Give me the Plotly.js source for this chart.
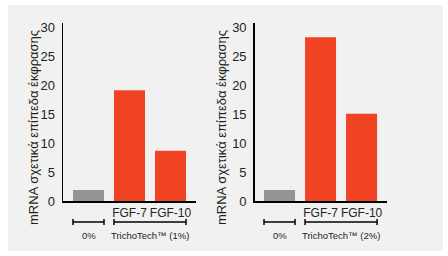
<!DOCTYPE html>
<html>
<head>
<meta charset="utf-8">
<script src="https://cdn.plot.ly/plotly-3.0.1.min.js"></script>
<style>html,body{margin:0;padding:0;background:#fff;}#chart{width:448px;height:256px;}</style>
</head>
<body>
<div id="chart"></div>
<script>
const positions = [0, 1, 2];
const catLabels = ['', 'FGF-7', 'FGF-10'];
const values1 = [1.9, 19.2, 8.7];
const values2 = [1.9, 28.4, 15.1];
const barColors = ['#939598', '#EF4324', '#EF4324'];
const groupLabels1 = ['0%', 'TrichoTech™ (1%)'];
const groupLabels2 = ['0%', 'TrichoTech™ (2%)'];
const yTitle = 'mRNA σχετικά επίπεδα έκφρασης';
const yTicks = [0, 5, 10, 15, 20, 25, 30];

const font = 'Liberation Sans, Arial, sans-serif';
const txt = '#231f20';

const traces = [
  {type:'bar', x: positions, y: values1, marker:{color: barColors}, width:0.756, xaxis:'x', yaxis:'y', hoverinfo:'skip'},
  {type:'bar', x: positions, y: values2, marker:{color: barColors}, width:0.756, xaxis:'x2', yaxis:'y2', hoverinfo:'skip'}
];

const yDom = [1-201/256, 1-22.7/256];
function xax(dom, range, anchor){
  return {domain: dom, range: range, anchor: anchor, showgrid:false, zeroline:false,
    showline:true, linecolor:'#000', linewidth:1.5, ticks:'',
    tickvals:[1,2], ticktext: catLabels.slice(1), tickfont:{family:font, size:12, color:txt}, fixedrange:true};
}
function yax(anchor){
  return {domain: yDom, range:[0, 30.9], anchor: anchor, showgrid:false, zeroline:false,
    showline:true, linecolor:'#000', linewidth:1.5, ticks:'', tickvals: yTicks,
    ticklabelstandoff: 4,
    tickfont:{family:font, size:13, color:txt}, fixedrange:true};
}

const shapes = [
  {type:'rect', xref:'paper', yref:'paper', x0:8/448, x1:443/448, y0:1-251/256, y1:1-5/256,
   fillcolor:'#f1f1f1', line:{width:0}, layer:'below'}
];
const annotations = [];
const by = 1-222/256, capH = 3/256, ty = 1-235/256;
function brackets(xr, labels){
  const spans = [[-0.378, 0.378], [0.622, 2.378]];
  spans.forEach((s, i) => {
    shapes.push({type:'line', xref:xr, yref:'paper', x0:s[0], x1:s[1], y0:by, y1:by, line:{color:'#000', width:1.5}});
    shapes.push({type:'line', xref:xr, yref:'paper', x0:s[0], x1:s[0], y0:by-capH, y1:by+capH, line:{color:'#000', width:1.5}});
    shapes.push({type:'line', xref:xr, yref:'paper', x0:s[1], x1:s[1], y0:by-capH, y1:by+capH, line:{color:'#000', width:1.5}});
    annotations.push({xref:xr, yref:'paper', x:(s[0]+s[1])/2, y:ty, text:labels[i], showarrow:false,
      xanchor:'center', yanchor:'middle', font:{family:font, size:9.5, color:txt}});
  });
}
brackets('x', groupLabels1);
brackets('x2', groupLabels2);
[33, 221].forEach(px => annotations.push({xref:'paper', yref:'paper', x:px/448, y:1-128/256, text:yTitle,
  textangle:-90, showarrow:false, xanchor:'center', yanchor:'middle', font:{family:font, size:13, color:txt}}));

const layout = {
  width:448, height:256, margin:{l:0,r:0,t:0,b:0}, paper_bgcolor:'#fff', plot_bgcolor:'rgba(0,0,0,0)',
  showlegend:false, bargap:0.25,
  xaxis: xax([63/448, 196/448], [-0.622, 2.622], 'y'),
  yaxis: yax('x'),
  xaxis2: xax([254.7/448, 387/448], [-0.605, 2.62], 'y2'),
  yaxis2: yax('x2'),
  shapes: shapes, annotations: annotations
};
Plotly.newPlot('chart', traces, layout, {staticPlot:true, displayModeBar:false});
</script>
</body>
</html>
